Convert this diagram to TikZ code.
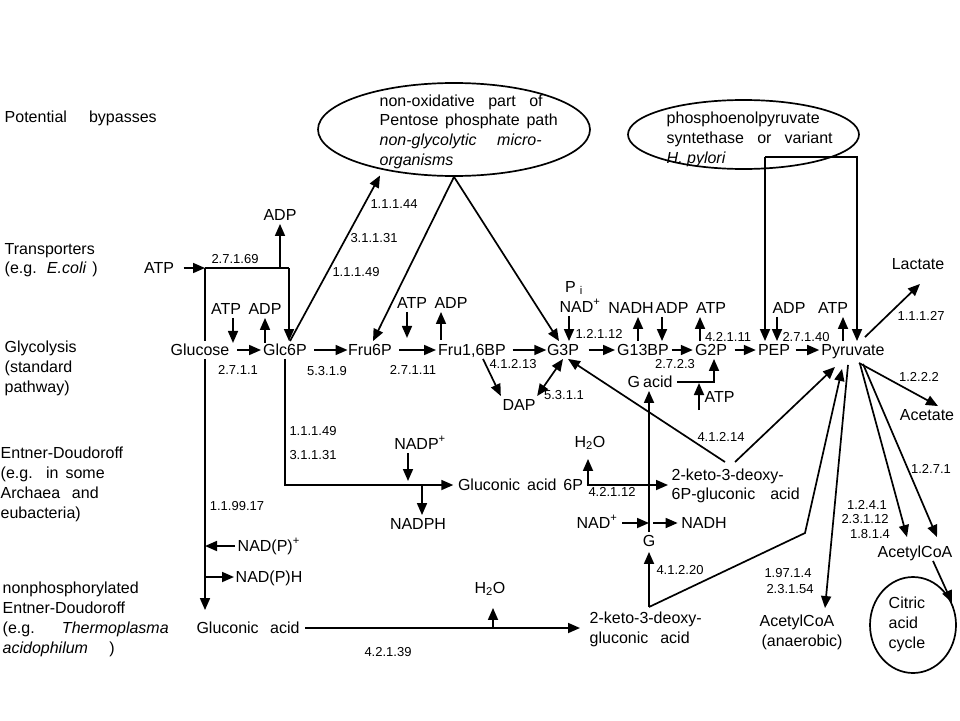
\documentclass[tikz,border=0pt]{standalone}
\usepackage{fontspec}
\setmainfont{Liberation Sans}
\usetikzlibrary{arrows.meta,shapes.geometric,calc}
\begin{document}
\begin{tikzpicture}[x=1pt,y=-1pt,
  lab/.style={font=\fontsize{16}{20}\selectfont, inner sep=1.5pt, text height=12.5pt, text depth=2pt},
  ec/.style={font=\fontsize{13}{15}\selectfont, inner sep=1pt, text height=9pt, text depth=0pt},
  arr/.style={-{Triangle[length=12pt,width=10pt]}, line width=1.7pt},
  ln/.style={line width=1.7pt},
  dbl/.style={{Triangle[length=12pt,width=10pt]}-{Triangle[length=12pt,width=10pt]}, line width=1.7pt},
  oval/.style={draw, ellipse, line width=1.7pt, inner sep=0pt},
  row/.style={arr, shorten <=5pt, shorten >=0.5pt}]
\fill[white] (0,0) rectangle (960,720);
\useasboundingbox (0,0) rectangle (960,720);

% ---------- left labels ----------
\node[lab,anchor=west] (l1) at (3,117) {\makebox[152pt][s]{Potential bypasses}};
\node[lab,anchor=west] (l2a) at (3,249) {Transporters};
\node[lab,anchor=west] (l2b) at (3,268) {\makebox[93pt][s]{(e.g. \textit{E.coli} )}};
\node[lab,anchor=west] (l3a) at (3,347) {Glycolysis};
\node[lab,anchor=west] (l3b) at (3,367) {(standard};
\node[lab,anchor=west] (l3c) at (3,387) {pathway)};
\node[lab,anchor=west] (l4a) at (-1,453) {Entner-Doudoroff};
\node[lab,anchor=west] (l4b) at (-1,473) {\makebox[104pt][s]{(e.g. in some}};
\node[lab,anchor=west] (l4c) at (-1,493) {\makebox[98pt][s]{Archaea and}};
\node[lab,anchor=west] (l4d) at (-1,513) {eubacteria)};
\node[lab,anchor=west] (l5a) at (1,588) {nonphosphorylated};
\node[lab,anchor=west] (l5b) at (1,608) {Entner-Doudoroff};
\node[lab,anchor=west] (l5c) at (1,628) {\makebox[166pt][s]{(e.g. \textit{Thermoplasma}}};
\node[lab,anchor=west] (l5d) at (1,648) {\makebox[112pt][s]{\textit{acidophilum} )}};

% ---------- ellipses ----------
\node[oval, minimum width=272pt, minimum height=93pt] (e1) at (454,129.5) {};
\node[lab,anchor=west] (e1t1) at (378,101) {\makebox[163pt][s]{non-oxidative part of}};
\node[lab,anchor=west] (e1t2) at (378,120) {\makebox[178pt][s]{Pentose phosphate path}};
\node[lab,anchor=west] (e1t3) at (378,140) {\makebox[162pt][s]{\textit{non-glycolytic} \textit{micro-}}};
\node[lab,anchor=west] (e1t4) at (378,160) {\textit{organisms}};

\node[oval, minimum width=231pt, minimum height=69pt] (e2) at (743.5,134.5) {};
\node[lab,anchor=west] (e2t1) at (665,118) {phosphoenolpyruvate};
\node[lab,anchor=west] (e2t2) at (665,138) {\makebox[166pt][s]{syntethase or variant}};
\node[lab,anchor=west] (e2t3) at (665,158) {\textit{H. pylori}};

% ---------- main row ----------
\node[lab] (glc) at (200,350) {Glucose};
\node[lab] (g6p) at (285,350) {Glc6P};
\node[lab] (f6p) at (370,350) {Fru6P};
\node[lab] (f16) at (472,350) {Fru1,6BP};
\node[lab] (g3p) at (563,350) {G3P};
\node[lab] (g13) at (643,350) {G13BP};
\node[lab] (g2p) at (711,350) {G2P};
\node[lab] (pep) at (774,350) {PEP};
\node[lab] (pyr) at (853,350) {Pyruvate};

\draw[row, shorten <=6pt] (glc) -- (g6p);
\draw[row, shorten <=6pt, shorten >=-1pt] (g6p) -- (f6p);
\draw[row, shorten <=6pt] (f6p) -- (f16);
\draw[row, shorten >=-1pt] (f16) -- (g3p);
\draw[row, shorten <=8pt] (g3p) -- (g13);
\draw[row, shorten <=1pt] (g13) -- (g2p);
\draw[row, shorten <=6pt] (g2p) -- (pep);
\draw[row, shorten <=4pt] (pep) -- (pyr);

% ---------- EC numbers ----------
\node[ec] (ec1) at (238,370) {2.7.1.1};
\node[ec] (ec2) at (327,371) {5.3.1.9};
\node[ec] (ec3) at (413,370) {2.7.1.11};
\node[ec] (ec4) at (513,364) {4.1.2.13};
\node[ec] (ec5) at (675,364) {2.7.2.3};
\node[ec] (ec6) at (599,334) {1.2.1.12};
\node[ec] (ec7) at (728,337) {4.2.1.11};
\node[ec] (ec8) at (806,337) {2.7.1.40};
\node[ec] (ec9) at (921,316) {1.1.1.27};
\node[ec] (ec10) at (919,377) {1.2.2.2};
\node[ec] (ec11) at (931,469) {1.2.7.1};
\node[ec] (ec12) at (867,505) {1.2.4.1};
\node[ec] (ec13) at (865,519) {2.3.1.12};
\node[ec] (ec14) at (870,534) {1.8.1.4};
\node[ec] (ec15) at (788,573) {1.97.1.4};
\node[ec] (ec16) at (790,589) {2.3.1.54};
\node[ec] (ec17) at (680,570) {4.1.2.20};
\node[ec] (ec18) at (721,437) {4.1.2.14};
\node[ec] (ec19) at (612,492) {4.2.1.12};
\node[ec] (ec20) at (388,652) {4.2.1.39};
\node[ec] (ec21) at (237,506) {1.1.99.17};
\node[ec] (ec22) at (313,431) {1.1.1.49};
\node[ec] (ec23) at (313,455) {3.1.1.31};
\node[ec] (ec24) at (394,204) {1.1.1.44};
\node[ec] (ec25) at (374,238) {3.1.1.31};
\node[ec] (ec26) at (356,272) {1.1.1.49};
\node[ec] (ec27) at (235,259) {2.7.1.69};
\node[ec] (ec28) at (564,395) {5.3.1.1};

% ---------- cofactors and side products ----------
\node[lab] (atp1) at (226,309) {ATP};
\node[lab] (adp1) at (265,309) {ADP};
\node[lab] (atp2) at (412,303) {ATP};
\node[lab] (adp2) at (451,303) {ADP};
\node[lab] (tatp) at (159,268) {ATP};
\node[lab] (tadp) at (280,215) {ADP};
\node[lab] (pi) at (574,287) {P\hspace{4pt}\textsubscript{i}};
\node[lab] (nad3) at (580,307) {NAD\textsuperscript{+}};
\node[lab] (nadh3) at (631,308) {NADH};
\node[lab] (adp3) at (672,308) {ADP};
\node[lab] (atp3) at (711,308) {ATP};
\node[lab] (padp) at (789,308) {ADP};
\node[lab] (patp) at (833,308) {ATP};
\node[lab] (lac) at (918,264) {Lactate};
\node[lab] (acet) at (927,415) {Acetate};
\node[lab] (acr) at (915,552) {AcetylCoA};
\node[lab] (aca1) at (797,621) {AcetylCoA};
\node[lab] (aca2) at (802,641) {(anaerobic)};
\node[oval, minimum width=86pt, minimum height=96pt] (cac) at (913,625) {};
\node[lab,anchor=west] (cac1) at (887,603) {Citric};
\node[lab,anchor=west] (cac2) at (887,623) {acid};
\node[lab,anchor=west] (cac3) at (887,643) {cycle};
\node[lab] (dap) at (519,405) {DAP};
\node[lab] (gac) at (650,382) {\makebox[45pt][s]{G acid}};
\node[lab,anchor=west] (gatp) at (703,397) {ATP};
\node[lab] (gl) at (649,541) {G};
\node[lab] (nadb) at (597,523) {NAD\textsuperscript{+}};
\node[lab] (nadhb) at (704,523) {NADH};
\node[lab] (h2oa) at (590,442) {H\textsubscript{2}O};
\node[lab] (ga6) at (520.5,485) {\makebox[125pt][s]{Gluconic acid 6P}};
\node[lab,anchor=west] (k6a) at (670,475) {2-keto-3-deoxy-};
\node[lab,anchor=west] (k6b) at (670,494) {\makebox[128pt][s]{6P-gluconic acid}};
\node[lab] (nadp) at (420,444) {NADP\textsuperscript{+}};
\node[lab] (nadph) at (418,524) {NADPH};
\node[lab,anchor=west] (nadpp) at (236,546) {NAD(P)\textsuperscript{+}};
\node[lab,anchor=west] (nadph1) at (234,577) {NAD(P)H};
\node[lab] (gla) at (248,628) {\makebox[103pt][s]{Gluconic acid}};
\node[lab] (h2ob) at (490,588) {H\textsubscript{2}O};
\node[lab,anchor=west] (kdg1) at (588,618) {2-keto-3-deoxy-};
\node[lab,anchor=west] (kdg2) at (588,638) {\makebox[100pt][s]{gluconic acid}};

% ---------- junction coordinates ----------
\coordinate (tj) at (205,268);
\coordinate (tk) at (289,268);
\coordinate (nx) at (422,485);
\coordinate (hx) at (588,485);
\coordinate (k6l) at (725,462);
\coordinate (k6r) at (735,462);
\coordinate (gj) at (714,382);
\coordinate (ga1) at (699,410);
\coordinate (gv) at (649,523);
\coordinate (kj) at (649,607);
\coordinate (kk) at (805,533);
\coordinate (hb) at (493,628);
\coordinate (e2a) at (765,157);
\coordinate (e2b) at (857,157);

% ---------- transporters ----------
\draw[arr, shorten <=8pt] (tatp) -- (tj);
\draw[ln] (tj) -- (tk);
\draw[arr] (tk) -- (tk |- g6p.north);
\draw[arr] (tadp.south |- tj) -- (tadp.south);
\draw[ln] (tj) -- (tj |- glc.north);
\draw[arr, shorten >=9pt] (tj |- glc.south) -- (tj |- gla.north);
\draw[arr, shorten <=1pt] (nadpp.west) -- (nadpp.west -| tj);
\draw[arr] (tj |- nadph1.west) -- (nadph1.west);

% ---------- cofactor arrows on main row ----------
\draw[arr] ([xshift=7pt]atp1.south) -- ++(0,25);
\draw[arr] ([yshift=-25pt]adp1.south) -- (adp1.south);
\draw[arr] ([xshift=-5pt]atp2.south) -- ++(0,26);
\draw[arr] ([xshift=-10pt,yshift=-28pt]adp2.south) -- ([xshift=-10pt]adp2.south);
\draw[arr] ([xshift=-11pt]nad3.south) -- ([xshift=-11pt]nad3.south |- g3p.north);
\draw[arr] ([xshift=7pt]nadh3.south |- g13.north) -- ([xshift=7pt]nadh3.south);
\draw[arr] ([xshift=-10pt]adp3.south) -- ([xshift=-10pt]adp3.south |- g13.north);
\draw[arr] ([xshift=-11pt]atp3.south |- g2p.north) -- ([xshift=-11pt]atp3.south);
\draw[arr] ([xshift=-12pt]padp.south) -- ([xshift=-12pt]padp.south |- pep.north);
\draw[arr] ([xshift=10pt]patp.south |- pyr.north) -- ([xshift=10pt]patp.south);

% ---------- pentose phosphate bypass ----------
\draw[arr] ([xshift=5pt]g6p.north) -- ([shift={(-74,46)}]e1.center);
\draw[arr] (e1.south) -- ([xshift=3pt]f6p.north);
\draw[arr] (e1.south) -- ([xshift=-4pt]g3p.north);

% ---------- PEP synthetase bypass ----------
\draw[arr] (e2a) -- (e2a |- pep.north);
\draw[arr] (e2a) -- (e2b) -- (e2b |- pyr.north);

% ---------- DAP ----------
\draw[arr] ([xshift=11pt]f16.south) -- (dap.north west);
\draw[dbl] (dap.north east) -- (g3p.south);

% ---------- G acid ----------
\draw[arr, shorten <=3pt] (gac.east) -- (gac.east -| gj) -- (gj |- g2p.south);
\draw[arr, shorten >=1pt] (ga1) -- (ga1 |- gac.east);

% ---------- Entner-Doudoroff ----------
\draw[arr, shorten >=3pt] (g6p.south) -- (g6p.south |- ga6.west) -- (ga6.west);
\draw[arr, shorten >=4pt] ([xshift=-12pt]nadp.south) -- ([xshift=-12pt]nadp.south |- ga6.west);
\draw[arr] (nx) -- (nx |- nadph.north);
\draw[arr, shorten <=2pt, shorten >=2pt] (ga6.east) -- (ga6.east -| k6a.west);
\draw[arr, shorten >=8pt] (hx) -- (hx |- h2oa.south);
\draw[arr] (k6l) -- ([xshift=5pt]g3p.south);
\draw[arr] (k6r) -- ([xshift=-18pt,yshift=-8pt]pyr.south);

% ---------- G and cofactors ----------
\draw[arr] (gl.north) -- (gl.north |- gac.south);
\draw[arr, shorten <=3pt] (nadb.east) -- (gv);
\draw[arr, shorten <=4pt, shorten >=2pt] (gv) -- (nadhb.west);

% ---------- nonphosphorylated ED ----------
\draw[arr, shorten <=4pt, shorten >=8pt] (gla.east) -- (gla.east -| kdg1.west);
\draw[arr, shorten >=11pt] (hb) -- (hb |- h2ob.south);
\draw[arr, shorten >=2pt] (kj) -- (gl.south);
\draw[arr] (kj) -- (kk) -- ([xshift=-11pt,yshift=-10pt]pyr.south);

% ---------- pyruvate products ----------
\draw[arr] ([xshift=12pt,yshift=4pt]pyr.north) -- ([xshift=2pt,yshift=-11pt]lac.south);
\draw[arr] ([xshift=6pt,yshift=-4pt]pyr.south) -- ([xshift=11pt]acet.north);
\draw[arr] ([xshift=7pt,yshift=-5pt]pyr.south) -- ([xshift=-8pt,yshift=6pt]acr.north);
\draw[arr] ([xshift=10pt,yshift=-5pt]pyr.south) -- ([xshift=22pt,yshift=6pt]acr.north);
\draw[arr] ([xshift=-5pt,yshift=-6pt]pyr.south) -- ([xshift=28pt,yshift=4pt]aca1.north);
\draw[arr] ([xshift=18pt]acr.south) -- (cac.30);
\end{tikzpicture}
\end{document}
